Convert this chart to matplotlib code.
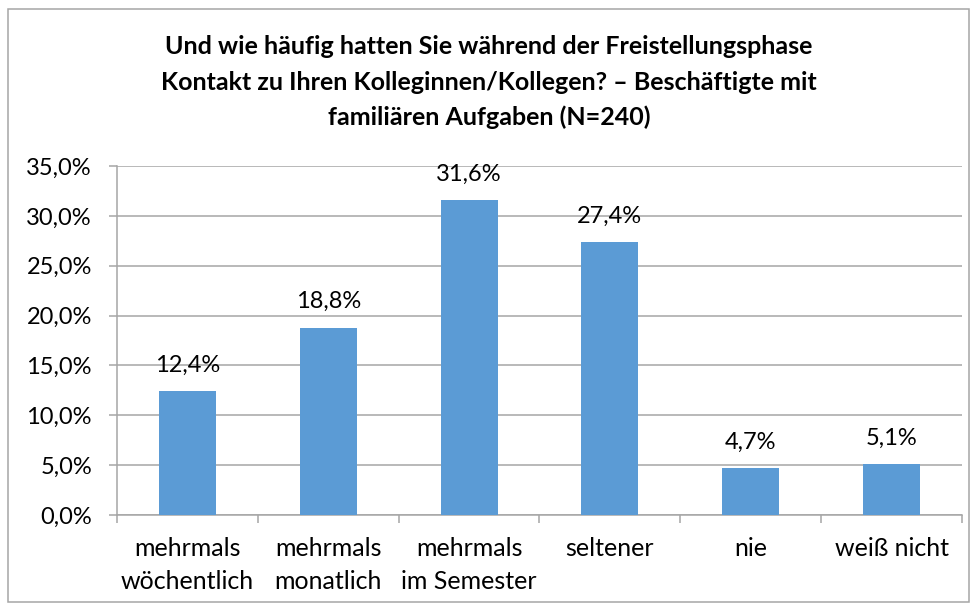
import matplotlib.pyplot as plt
from matplotlib.patches import Rectangle
from matplotlib.ticker import FuncFormatter

plt.rcParams['font.family'] = ['Lato', 'DejaVu Sans']

# Antwortkategorien und Anteile (in %)
kategorien = ['mehrmals\nwöchentlich', 'mehrmals\nmonatlich', 'mehrmals\nim Semester',
              'seltener', 'nie', 'weiß nicht']
anteile = [12.4, 18.8, 31.6, 27.4, 4.7, 5.1]
titel_zeilen = ['Und wie häufig hatten Sie während der Freistellungsphase',
                'Kontakt zu Ihren Kolleginnen/Kollegen? – Beschäftigte mit',
                'familiären Aufgaben (N=240)']
y_ticks = [0, 5, 10, 15, 20, 25, 30, 35]

blau = '#5B9BD5'
grau = '#A6A6A6'

fig = plt.figure(figsize=(9.78, 6.10), dpi=100)
ax = fig.add_axes([117 / 978, 1 - 515 / 610, 845 / 978, 349 / 610])

x = list(range(len(anteile)))
ax.bar(x, anteile, width=0.405, color=blau, zorder=3)

for xi, v in zip(x, anteile):
    ax.annotate(f'{v:.1f}%'.replace('.', ','), (xi, v), xytext=(0, 11),
                textcoords='offset points', ha='center', va='bottom', fontsize=17)

ax.set_xlim(-0.5, len(anteile) - 0.5)
ax.set_ylim(0, 35)
ax.set_yticks(y_ticks)
ax.yaxis.set_major_formatter(FuncFormatter(lambda v, p: f'{v:.1f}%'.replace('.', ',')))
ax.yaxis.grid(True, color=grau, linewidth=1.1, zorder=0)

# Striche an den Kategoriegrenzen, Beschriftung in der Mitte
ax.set_xticks([i - 0.5 for i in range(len(anteile) + 1)])
ax.set_xticklabels([])
ax.set_xticks(x, minor=True)
ax.set_xticklabels(kategorien, minor=True, fontsize=18)
for lbl in ax.get_xticklabels(minor=True):
    lbl.set_linespacing(1.5)
ax.tick_params(axis='x', which='major', length=6, color=grau, width=1.1)
ax.tick_params(axis='x', which='minor', length=0, pad=16)
ax.tick_params(axis='y', length=6, color=grau, width=1.1, labelsize=17, pad=12)

for s in ['top', 'right']:
    ax.spines[s].set_visible(False)
for s in ['left', 'bottom']:
    ax.spines[s].set_color(grau)
    ax.spines[s].set_linewidth(1.1)

for i, zeile in enumerate(titel_zeilen):
    fig.text(0.5, 1 - (47 + 35 * i) / 610, zeile, ha='center', va='center',
             fontsize=18, fontweight='bold')

fig.patches.append(Rectangle((8 / 978, 8 / 610), 961 / 978, 593 / 610,
                             transform=fig.transFigure, fill=False,
                             edgecolor=grau, linewidth=1.1))

fig.savefig('out.png', dpi=100)
